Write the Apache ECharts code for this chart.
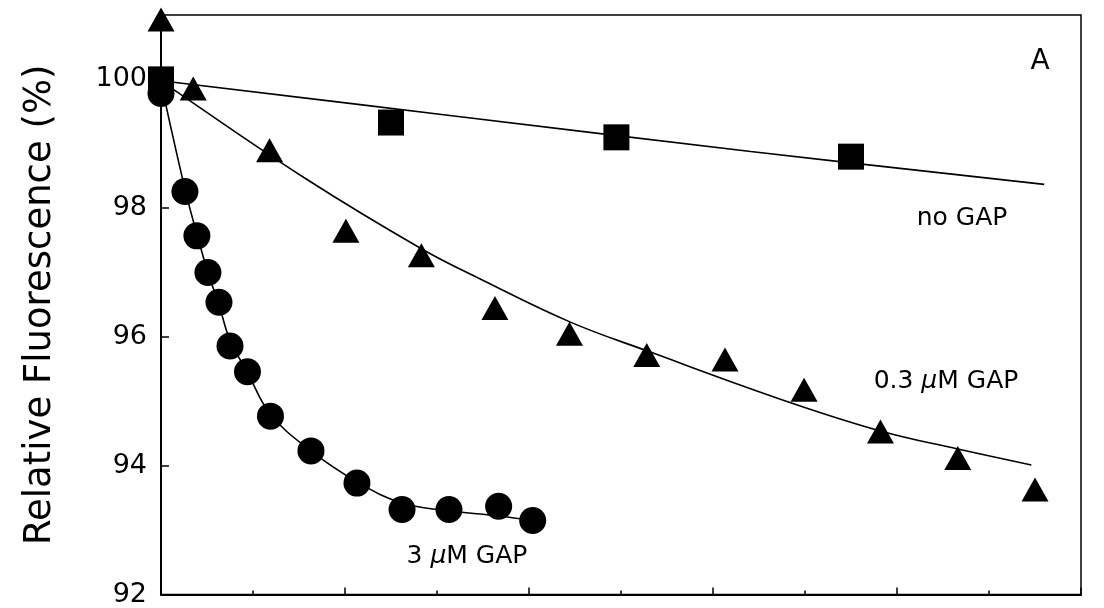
<!DOCTYPE html>
<html><head><meta charset="utf-8">
<script src="https://cdn.jsdelivr.net/npm/echarts@6/dist/echarts.min.js"></script>
<style>html,body{margin:0;padding:0;background:#fff}#c{width:1104px;height:608px}</style>
</head><body><div id="c"></div>
<script>
// Y axis tick values
const yTicks = [92, 94, 96, 98, 100];
// Measured points [time (arb. units), relative fluorescence %]
const noGapX = [0, 2.50, 4.95, 7.50];
const noGapY = [100.0, 99.33, 99.10, 98.80];
const gap03X = [0, 0.35, 1.18, 2.01, 2.83, 3.63, 4.44, 5.28, 6.13, 6.99, 7.82, 8.66, 9.50];
const gap03Y = [100.93, 99.86, 98.90, 97.65, 97.27, 96.45, 96.05, 95.72, 95.65, 95.18, 94.53, 94.12, 93.63];
const gap3X = [0, 0.26, 0.39, 0.51, 0.63, 0.75, 0.94, 1.19, 1.63, 2.13, 2.62, 3.13, 3.67, 4.04];
const gap3Y = [99.78, 98.26, 97.57, 97.00, 96.54, 95.86, 95.46, 94.77, 94.23, 93.73, 93.32, 93.32, 93.37, 93.15];
// Fitted curves
const noGapFitX = [0, 3.14, 6.41, 9.60];
const noGapFitY = [99.98, 99.44, 98.88, 98.37];
const gap03FitX = [0, 0.15, 1.57, 2.83, 3.47, 4.45, 5.29, 6.74, 7.82, 8.66, 9.46];
const gap03FitY = [100.0, 99.83, 98.46, 97.37, 96.90, 96.23, 95.78, 95.03, 94.54, 94.26, 94.01];
const gap3FitX = [0, 0.26, 0.39, 0.51, 0.63, 0.75, 0.94, 1.19, 1.63, 2.13, 2.62, 3.13, 3.67, 4.04];
const gap3FitY = [99.95, 98.30, 97.60, 97.00, 96.50, 95.95, 95.45, 94.80, 94.23, 93.75, 93.42, 93.30, 93.22, 93.15];
// Text labels
const panelLabel = 'A';
const yName = 'Relative Fluorescence (%)';

const zip = (xs, ys) => xs.map((x, i) => [x, ys[i]]);
const FONT = 'DejaVu Sans';
const chart = echarts.init(document.getElementById('c'), null, {renderer: 'canvas'});

const lineStyle = {color: '#000', width: 1.6, opacity: 1};
function fit(xs, ys) {
  return {type: 'line', data: zip(xs, ys), showSymbol: false, smooth: 0.4,
    lineStyle: lineStyle, z: 2, silent: true};
}
function pts(xs, ys, symbol, size) {
  return {type: 'scatter', data: zip(xs, ys), symbol: symbol, symbolSize: size, clip: false,
    itemStyle: {color: '#000', opacity: 1}, z: 3, silent: true};
}
const rich = {
  n: {fontFamily: FONT, fontSize: 25, fill: '#000', color: '#000'},
  i: {fontFamily: FONT, fontSize: 25, fontStyle: 'italic', fill: '#000', color: '#000'}
};
chart.setOption({
  animation: false,
  backgroundColor: '#fff',
  grid: {left: 161, right: 23, top: 15, bottom: 13, show: true, borderColor: '#000', borderWidth: 1.5},
  xAxis: {
    type: 'value', min: 0, max: 10, interval: 2,
    axisLine: {lineStyle: {color: '#000', width: 2}},
    axisTick: {inside: true, length: 7, lineStyle: {color: '#000', width: 1.5}},
    minorTick: {show: true, splitNumber: 2, length: 4, lineStyle: {color: '#000', width: 1.5}},
    axisLabel: {show: false},
    splitLine: {show: false}
  },
  yAxis: {
    type: 'value', min: yTicks[0], max: 101, interval: 2,
    name: yName, nameLocation: 'middle', nameGap: 102, nameRotate: 90,
    nameTextStyle: {fontFamily: FONT, fontSize: 37, color: '#000'},
    axisLine: {lineStyle: {color: '#000', width: 2}},
    axisTick: {inside: true, length: 8, lineStyle: {color: '#000', width: 1.5}},
    axisLabel: {fontFamily: FONT, fontSize: 27, color: '#000', margin: 14, showMaxLabel: false,
      formatter: v => yTicks.includes(v) ? String(v) : ''},
    splitLine: {show: false}
  },
  graphic: [
    {type: 'text', x: 1040, y: 62, style: {text: panelLabel, font: '28px "DejaVu Sans"', fill: '#000', align: 'center', verticalAlign: 'middle'}},
    {type: 'text', x: 962, y: 218, style: {text: '{n|no GAP}', rich: rich, align: 'center', verticalAlign: 'middle'}},
    {type: 'text', x: 946, y: 381, style: {text: '{n|0.3 }{i|µ}{n|M GAP}', rich: rich, align: 'center', verticalAlign: 'middle'}},
    {type: 'text', x: 467, y: 556, style: {text: '{n|3 }{i|µ}{n|M GAP}', rich: rich, align: 'center', verticalAlign: 'middle'}}
  ],
  series: [
    fit(noGapFitX, noGapFitY),
    fit(gap03FitX, gap03FitY),
    fit(gap3FitX, gap3FitY),
    pts(noGapX, noGapY, 'rect', 26),
    pts(gap03X, gap03Y, 'triangle', [27, 24]),
    pts(gap3X, gap3Y, 'circle', 27)
  ]
});
</script></body></html>
